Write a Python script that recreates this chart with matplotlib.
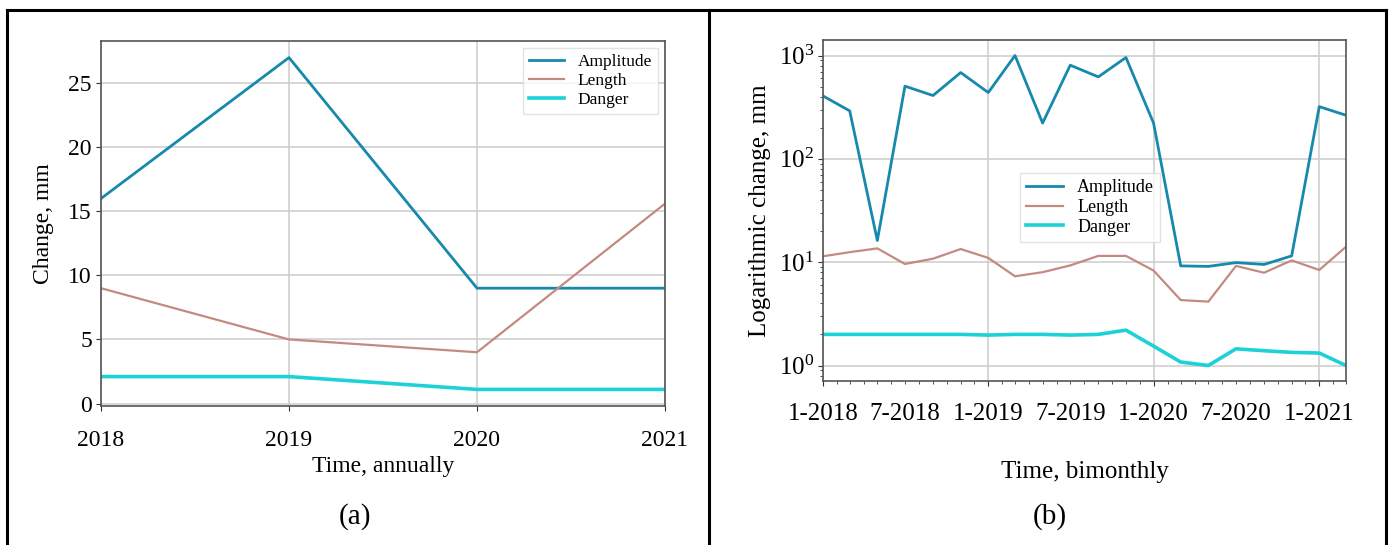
import pandas as pd
import matplotlib
matplotlib.use("Agg")
import matplotlib.pyplot as plt
import matplotlib.dates as mdates
from matplotlib.lines import Line2D
from matplotlib.ticker import FuncFormatter

plt.rcParams['font.family'] = ['Liberation Serif', 'DejaVu Serif']
plt.rcParams['mathtext.fontset'] = 'custom'
plt.rcParams['mathtext.rm'] = 'Liberation Serif'

# annual series
years = [2018, 2019, 2020, 2021]
amp_year = [16.0, 27.0, 9.0, 9.0]
len_year = [9.0, 5.0, 4.0, 15.6]
dng_year = [2.1, 2.1, 1.1, 1.1]

# bimonthly series
months = ["1-2018", "3-2018", "5-2018", "7-2018", "9-2018", "11-2018",
          "1-2019", "3-2019", "5-2019", "7-2019", "9-2019", "11-2019",
          "1-2020", "3-2020", "5-2020", "7-2020", "9-2020", "11-2020",
          "1-2021", "3-2021"]
amp_month = [406, 291, 16.2, 505, 410, 684, 438, 1000, 222, 806, 621, 956,
             222, 9.2, 9.1, 9.9, 9.5, 11.5, 320, 264]
len_month = [11.4, 12.5, 13.6, 9.6, 10.8, 13.4, 11.0, 7.3, 8.0, 9.3, 11.5, 11.5,
             8.3, 4.3, 4.15, 9.2, 7.9, 10.4, 8.4, 14.1]
dng_month = [2.0, 2.0, 2.0, 2.0, 2.0, 2.0, 1.97, 2.0, 2.0, 1.97, 2.0, 2.2,
             1.54, 1.08, 1.0, 1.45, 1.39, 1.34, 1.32, 1.0]

c_amp = '#1789ad'
c_len = '#c38a80'
c_dng = '#1cd2d8'
grid_kw = dict(color='#cfcfcf', linewidth=1.2)

fig = plt.figure(figsize=(13.92, 5.45), dpi=100)

# ---- (a) annual change
ax1 = fig.add_axes([101/1392, 1-406/545, 564/1392, 365/545])
ax1.plot(years, amp_year, color=c_amp, linewidth=2.0, label="Amplitude")
ax1.plot(years, len_year, color=c_len, linewidth=1.6, label="Length")
ax1.plot(years, dng_year, color=c_dng, linewidth=2.6, label="Danger")
ax1.set_xlim(2018, 2021)
ax1.set_xticks(years)
ax1.set_yticks([0, 5, 10, 15, 20, 25])
ax1.grid(True, **grid_kw)
ax1.set_axisbelow(True)
ax1.tick_params(axis='x', labelsize=17, pad=14, colors='#333333', labelcolor='black')
ax1.tick_params(axis='y', labelsize=17, pad=3, colors='#333333', labelcolor='black')
ax1.set_xlabel("Time, annually", fontsize=17)
ax1.set_ylabel("Change, mm", fontsize=17)
ax1.xaxis.set_label_coords(0.5, -0.137)
ax1.yaxis.set_label_coords(-0.084, 0.5)
ax1.legend(loc='upper right', fontsize=12.5, frameon=True, fancybox=False,
           edgecolor='#dddddd', handlelength=2.0, borderpad=0.35,
           labelspacing=0.15, borderaxespad=0.4)

# ---- (b) bimonthly change, log scale
dates = pd.to_datetime(months, format="%m-%Y")
ax2 = fig.add_axes([823/1392, 1-381/545, 523/1392, 341/545])
ax2.plot(dates, amp_month, color=c_amp, linewidth=2.0, label="Amplitude")
ax2.plot(dates, len_month, color=c_len, linewidth=1.6, label="Length")
ax2.plot(dates, dng_month, color=c_dng, linewidth=2.6, label="Danger")
ax2.set_yscale('log')
ax2.set_xlim(dates[0], dates[-1])
ax2.xaxis.set_major_locator(mdates.YearLocator())
ax2.xaxis.set_minor_locator(mdates.MonthLocator())
ax2.xaxis.set_major_formatter(FuncFormatter(
    lambda v, p: "1-%d" % mdates.num2date(v).year))
ax2.xaxis.set_minor_formatter(FuncFormatter(
    lambda v, p: "7-%d" % mdates.num2date(v).year
    if mdates.num2date(v).month == 7 else ""))
ax2.grid(True, which='major', **grid_kw)
ax2.set_axisbelow(True)
ax2.tick_params(axis='x', which='major', labelsize=18, pad=12,
                colors='#333333', labelcolor='black')
# minor ticks are shorter, so pad them more to keep one label baseline
ax2.tick_params(axis='x', which='minor', labelsize=18, pad=13.5,
                colors='#333333', labelcolor='black')
ax2.tick_params(axis='y', which='both', labelsize=18, pad=3,
                colors='#333333', labelcolor='black')
ax2.set_xlabel("Time, bimonthly", fontsize=18)
ax2.set_ylabel("Logarithmic change, mm", fontsize=18)
ax2.xaxis.set_label_coords(0.5, -0.235)
ax2.yaxis.set_label_coords(-0.099, 0.5)
ax2.legend(loc='upper left', bbox_to_anchor=(0.377, 0.61), fontsize=13,
           frameon=True, fancybox=False, edgecolor='#dddddd',
           handlelength=2.0, borderpad=0.35, labelspacing=0.15,
           borderaxespad=0)

for ax in (ax1, ax2):
    for s in ax.spines.values():
        s.set_color('#555555')
        s.set_linewidth(1.2)

# panel captions
fig.text(355/1392, 1-517/545, "(a)", fontsize=21, ha='center', va='center')
fig.text(1050/1392, 1-517/545, "(b)", fontsize=21, ha='center', va='center')

# table frame around the two panels
frame_kw = dict(color='black', linewidth=2.2, transform=fig.transFigure)
fig.add_artist(Line2D([7/1392, 1386/1392], [1-10/545, 1-10/545], **frame_kw))
fig.add_artist(Line2D([7/1392, 7/1392], [0, 1-10/545], **frame_kw))
fig.add_artist(Line2D([709/1392, 709/1392], [0, 1-10/545], **frame_kw))
fig.add_artist(Line2D([1386/1392, 1386/1392], [0, 1-10/545], **frame_kw))

fig.savefig("out.png", dpi=100)
